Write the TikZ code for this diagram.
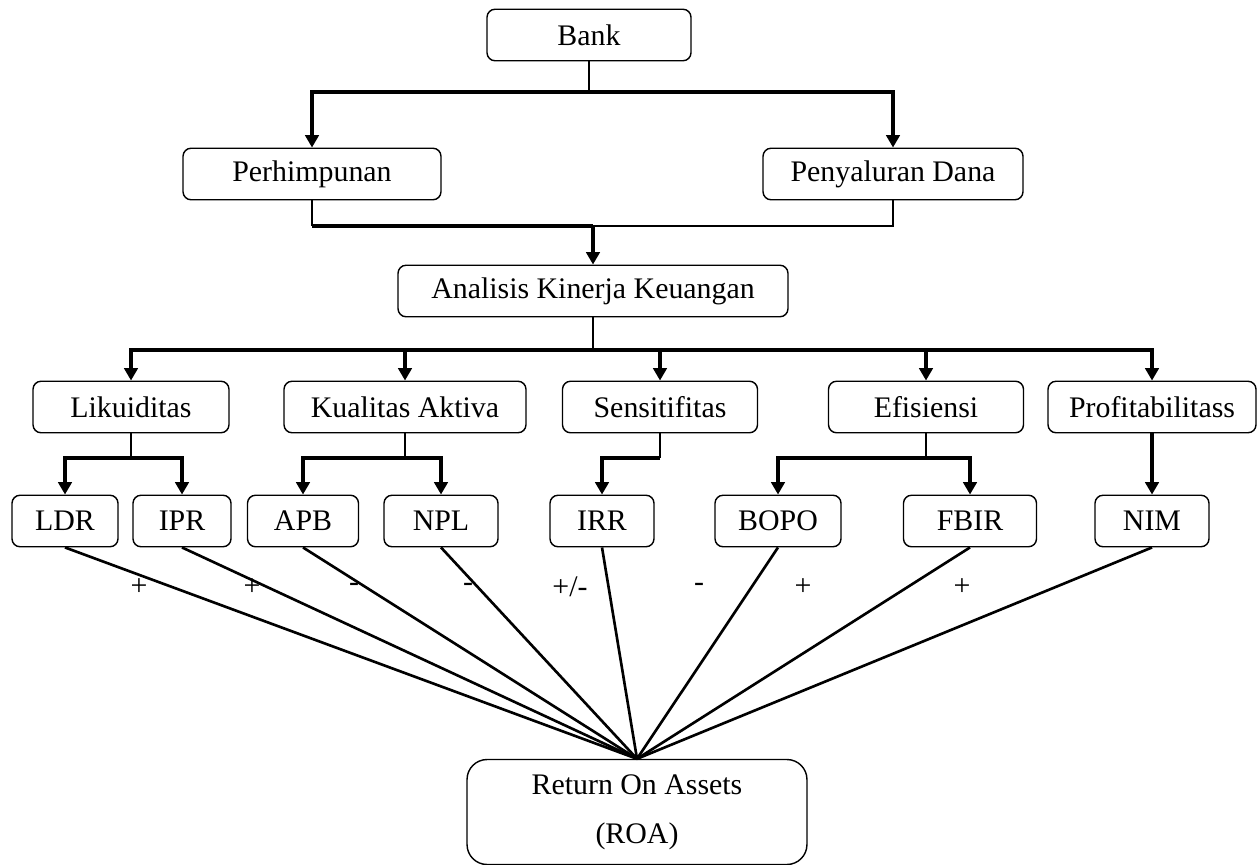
\documentclass[tikz,border=0pt]{standalone}
\usepackage{fontspec}
\setmainfont{Liberation Serif}
\usetikzlibrary{arrows.meta}
\tikzset{>/.tip={Triangle[width=0.27cm,length=0.25cm]},
  box/.style={draw, line width=0.8pt, rounded corners=0.16cm, inner sep=0pt,
    minimum height=1.03cm, font=\fontsize{17}{20}\selectfont},
  link/.style={line width=0.8pt},
  feed/.style={line width=1.9pt},
  ray/.style={line width=1.5pt},
  signlabel/.style={font=\fontsize{17}{20}\selectfont}}

\begin{document}
\begin{tikzpicture}[x=0.02cm,y=-0.02cm]
\useasboundingbox (0,0) rectangle (1257,865);
\node[box, minimum width=4.08cm] (bank) at (589,35)  {Bank};
\node[box, minimum width=5.16cm] (perh) at (312,174) {Perhimpunan};
\node[box, minimum width=5.2cm]  (peny) at (893,174) {Penyaluran Dana};
\node[box, minimum width=7.8cm]  (anal) at (593,291) {Analisis Kinerja Keuangan};

\node[box, minimum width=3.92cm] (lik)  at (131,407)  {Likuiditas};
\node[box, minimum width=4.84cm] (kual) at (405,407)  {Kualitas Aktiva};
\node[box, minimum width=3.9cm]  (sens) at (660,407)  {Sensitifitas};
\node[box, minimum width=3.9cm]  (efis) at (926,407)  {Efisiensi};
\node[box, minimum width=4.16cm] (prof) at (1152,407) {Profitabilitass};

\node[box, minimum width=2.12cm] (ldr)  at (65,521)   {LDR};
\node[box, minimum width=1.96cm] (ipr)  at (182,521)  {IPR};
\node[box, minimum width=2.22cm] (apb)  at (303,521)  {APB};
\node[box, minimum width=2.28cm] (npl)  at (441,521)  {NPL};
\node[box, minimum width=2.08cm] (irr)  at (602,521)  {IRR};
\node[box, minimum width=2.52cm] (bopo) at (778,521)  {BOPO};
\node[box, minimum width=2.66cm] (fbir) at (970,521)  {FBIR};
\node[box, minimum width=2.28cm] (nim)  at (1152,521) {NIM};

\node[box, minimum width=6.8cm, minimum height=2.1cm, align=center, rounded corners=0.4cm,
  font=\fontsize{17}{28}\selectfont] (roa) at (637,812) {Return On Assets\\(ROA)};

\coordinate (jbank) at (589,92);
\coordinate (jfund) at (593,226);
\coordinate (jana)  at (593,350);
\coordinate (row)   at (0,458);

\draw[link] (bank) -- (jbank);
\draw[feed,->] (jbank) -| (perh);
\draw[feed,->] (jbank) -| (peny);

\draw[link] (perh) -- (perh |- jfund);
\draw[feed] (perh |- jfund) -- (jfund);
\draw[link] (peny) |- (jfund);
\draw[feed,->] (jfund) -- (anal);

\draw[link] (anal) -- (jana);
\foreach \n in {lik,kual,sens,efis,prof}
{
  \draw[feed,->] (jana) -| (\n);
}

\foreach \p/\c in {lik/ldr,lik/ipr,kual/apb,kual/npl,sens/irr,efis/bopo,efis/fbir}
{
  \draw[link] (\p) -- (\p |- row);
  \draw[feed,->] (\p |- row) -| (\c);
}
\draw[feed,->] (prof) -- (nim);

\foreach \n in {ldr,ipr,apb,npl,irr,bopo,fbir,nim}
{
  \draw[ray] (\n.south) -- (roa.north);
}

\foreach \x/\s [count=\i] in {139/+,252/+,354/-,468/-,570/{+/-},699/-,803/+,962/+}
{
  \node[signlabel] (sign\i) at (\x,587) {\s};
}
\end{tikzpicture}
\end{document}
